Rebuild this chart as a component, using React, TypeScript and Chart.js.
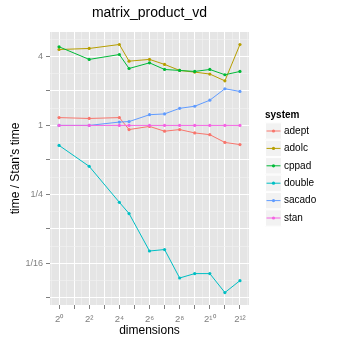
import React, { useEffect, useRef } from 'react';
import { Chart, registerables } from 'chart.js';

Chart.register(...registerables);

const chartTitle = 'matrix_product_vd';
const xTitle = 'dimensions';
const yTitle = "time / Stan's time";
const legendTitle = 'system';

const dimensions = [1, 4, 16, 25, 64, 128, 256, 512, 1024, 2048, 4096];
const systems = ['adept', 'adolc', 'cppad', 'double', 'sacado', 'stan'];
const colors = ['#F8766D', '#B79F00', '#00BA38', '#00BFC4', '#619CFF', '#F564E3'];

const adept = [1.17, 1.15, 1.17, 0.92, 0.98, 0.89, 0.92, 0.86, 0.83, 0.71, 0.68];
const adolc = [4.6, 4.7, 5.09, 3.64, 3.77, 3.41, 3.02, 2.92, 2.81, 2.45, 5.09];
const cppad = [4.86, 3.77, 4.16, 3.14, 3.52, 3.08, 3.02, 2.96, 3.08, 2.77, 2.96];
const double = [0.669, 0.439, 0.213, 0.17, 0.08, 0.0824, 0.0465, 0.0508, 0.0508, 0.0347, 0.0441];
const sacado = [1, 1, 1.07, 1.08, 1.24, 1.26, 1.41, 1.47, 1.66, 2.09, 1.98];
const stan = [1, 1, 1, 1, 1, 1, 1, 1, 1, 1, 1];
const seriesValues = [adept, adolc, cppad, double, sacado, stan];

// log2 exponents of the labelled x ticks and their labels
const xTickExps = [0, 2, 4, 6, 8, 10, 12];
const xTickLabels = ['2⁰', '2²', '2⁴', '2⁶', '2⁸', '2¹⁰', '2¹²'];
// log2 exponents of the labelled y ticks and their labels
const yTickExps = [-4, -2, 0, 2];
const yTickLabels = ['1/16', '1/4', '1', '4'];

const FONT = "'Liberation Sans', Arial, Helvetica, sans-serif";

function range(a: number, b: number, step: number) {
  const out: number[] = [];
  for (let v = a; v <= b + 1e-9; v += step) out.push(Math.round(v * 100) / 100);
  return out;
}

const isInt = (v: number) => Math.abs(v - Math.round(v)) < 1e-6;

const bgPlugin = {
  id: 'ggBackground',
  beforeDraw(chart: any) {
    const { ctx, chartArea } = chart;
    ctx.save();
    ctx.fillStyle = '#ffffff';
    ctx.fillRect(0, 0, chart.width, chart.height);
    ctx.fillStyle = '#E5E5E5';
    ctx.fillRect(chartArea.left, chartArea.top, chartArea.right - chartArea.left, chartArea.bottom - chartArea.top);
    ctx.restore();
  },
};

const decorPlugin = {
  id: 'ggDecor',
  afterDraw(chart: any) {
    const { ctx, chartArea } = chart;
    ctx.save();
    // title
    ctx.fillStyle = '#000000';
    ctx.font = `14px ${FONT}`;
    ctx.textAlign = 'center';
    ctx.textBaseline = 'middle';
    ctx.fillText(chartTitle, (chartArea.left + chartArea.right) / 2, 13);

    // legend
    const lx = 265;
    ctx.textAlign = 'left';
    ctx.font = `bold 10px ${FONT}`;
    ctx.fillText(legendTitle, lx, 115);
    const keyW = 17;
    const keyH = 17.4;
    const firstY = 131;
    chart.data.datasets.forEach((ds: any, i: number) => {
      const cy = firstY + i * keyH;
      ctx.fillStyle = '#F2F2F2';
      ctx.fillRect(lx, cy - keyH / 2, keyW, keyH);
      ctx.strokeStyle = '#FFFFFF';
      ctx.lineWidth = 1;
      ctx.strokeRect(lx + 0.5, cy - keyH / 2 + 0.5, keyW - 1, keyH - 1);
      ctx.strokeStyle = ds.borderColor;
      ctx.lineWidth = 1;
      ctx.beginPath();
      ctx.moveTo(lx + 1.5, cy);
      ctx.lineTo(lx + keyW - 1.5, cy);
      ctx.stroke();
      ctx.fillStyle = ds.borderColor;
      ctx.beginPath();
      ctx.arc(lx + keyW / 2, cy, 1.6, 0, Math.PI * 2);
      ctx.fill();
      ctx.fillStyle = '#000000';
      ctx.font = `10px ${FONT}`;
      ctx.textBaseline = 'middle';
      ctx.fillText(ds.label, lx + keyW + 2, cy);
    });
    ctx.restore();
  },
};

export default function App() {
  const ref = useRef<HTMLCanvasElement | null>(null);

  useEffect(() => {
    if (!ref.current) return;
    const datasets = systems.map((name, i) => ({
      label: name,
      data: dimensions.map((d, j) => ({ x: Math.log2(d), y: Math.log2(seriesValues[i][j]) })),
      borderColor: colors[i],
      backgroundColor: colors[i],
      borderWidth: 1,
      pointRadius: 1.6,
      pointBorderWidth: 0,
      pointHoverRadius: 1.6,
      tension: 0,
      order: -i,
    }));

    const chart = new Chart(ref.current, {
      type: 'line',
      data: { datasets },
      options: {
        animation: false,
        responsive: false,
        devicePixelRatio: 1,
        events: [],
        layout: { padding: { top: 32, right: 97, left: 0, bottom: 0 } },
        plugins: {
          legend: { display: false },
          title: { display: false },
          tooltip: { enabled: false },
        },
        scales: {
          x: {
            type: 'linear',
            min: -0.6,
            max: 12.6,
            afterBuildTicks: (scale: any) => {
              scale.ticks = range(-0.5, 12.5, 0.5).map((v) => ({ value: v }));
            },
            afterFit: (scale: any) => {
              scale.height = 41;
            },
            border: { display: false },
            grid: {
              color: (c: any) => (isInt(c.tick.value) ? '#FFFFFF' : '#F2F2F2'),
              lineWidth: (c: any) => (isInt(c.tick.value) ? 1 : 0.6),
              tickColor: (c: any) => (isInt(c.tick.value) ? '#7F7F7F' : 'rgba(0,0,0,0)'),
              tickWidth: 1,
              tickLength: 4,
              drawTicks: true,
            },
            ticks: {
              autoSkip: false,
              maxRotation: 0,
              padding: 5,
              color: '#7F7F7F',
              font: { size: 9.5, family: FONT },
              callback: (v: any) => {
                const k = xTickExps.findIndex((e) => Math.abs(e - v) < 1e-6);
                return k >= 0 ? xTickLabels[k] : '';
              },
            },
            title: {
              display: true,
              text: xTitle,
              color: '#000000',
              font: { size: 12, family: FONT },
              padding: { top: 0, bottom: 8.5 },
            },
          },
          y: {
            type: 'linear',
            min: -5.21,
            max: 2.71,
            afterBuildTicks: (scale: any) => {
              scale.ticks = range(-5, 2.5, 0.5).map((v) => ({ value: v }));
            },
            afterFit: (scale: any) => {
              scale.width = 50;
            },
            border: { display: false },
            grid: {
              color: (c: any) => (isInt(c.tick.value) ? '#FFFFFF' : '#F2F2F2'),
              lineWidth: (c: any) => (isInt(c.tick.value) ? 1 : 0.6),
              tickColor: (c: any) => (isInt(c.tick.value) ? '#7F7F7F' : 'rgba(0,0,0,0)'),
              tickWidth: 1,
              tickLength: 4,
              drawTicks: true,
            },
            ticks: {
              autoSkip: false,
              padding: 3,
              color: '#7F7F7F',
              font: { size: 9, family: FONT },
              callback: (v: any) => {
                const k = yTickExps.findIndex((e) => Math.abs(e - v) < 1e-6);
                return k >= 0 ? yTickLabels[k] : '';
              },
            },
            title: {
              display: true,
              text: yTitle,
              color: '#000000',
              font: { size: 12, family: FONT },
              padding: { top: 8, bottom: 0 },
            },
          },
        },
      },
      plugins: [bgPlugin, decorPlugin],
    } as any);

    return () => chart.destroy();
  }, []);

  return (
    <div style={{ position: 'absolute', left: 0, top: 0, width: 346, height: 346, background: '#fff' }}>
      <canvas ref={ref} width={346} height={346} style={{ display: 'block', width: 346, height: 346 }} />
    </div>
  );
}
